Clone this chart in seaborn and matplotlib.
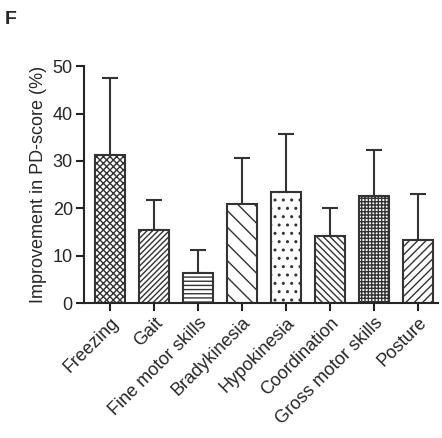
import numpy as np
import pandas as pd
import matplotlib
matplotlib.use('Agg')
import matplotlib.pyplot as plt
import seaborn as sns

categories = ['Freezing', 'Gait', 'Fine motor skills', 'Bradykinesia', 'Hypokinesia',
              'Coordination', 'Gross motor skills', 'Posture']
means = [31.2, 15.5, 6.4, 21.0, 23.4, 14.1, 22.6, 13.4]
upper = [47.5, 21.7, 11.1, 30.6, 35.6, 20.1, 32.3, 23.0]
hatches = ['xxxxx', '//////', '----', '\\\\', '..', '\\\\\\\\\\', '+++++', '////']

sns.set_style('ticks')
plt.rcParams['font.family'] = ['Liberation Sans', 'DejaVu Sans']
plt.rcParams['hatch.linewidth'] = 1.0

df = pd.DataFrame({'cat': categories, 'val': means})
fig = plt.figure(figsize=(4.42, 4.38), dpi=100)
ax = fig.add_axes([0.19, 0.308, 0.80, 0.541])
sns.barplot(data=df, x='cat', y='val', color='white', edgecolor='#333333',
            linewidth=1.5, width=0.68, ax=ax)
for bar, h in zip(ax.patches, hatches):
    bar.set_hatch(h)
    bar.set_zorder(3)
err = np.array(upper) - np.array(means)
ax.errorbar(np.arange(len(means)), means, yerr=[np.zeros(len(means)), err],
            fmt='none', ecolor='#333333', elinewidth=1.5, capsize=6, capthick=1.5, zorder=2)
ax.set_ylim(0, 50)
ax.set_xlim(-0.6, 7.45)
ax.set_yticks([0, 10, 20, 30, 40, 50])
ax.set_xlabel('')
ax.set_ylabel('Improvement in PD-score (%)', fontsize=13)
ax.tick_params(axis='both', labelsize=13, width=1.5, length=6, color='#222222', pad=2)
plt.setp(ax.get_xticklabels(), rotation=45, ha='right', rotation_mode='anchor')
for s in ['left', 'bottom']:
    ax.spines[s].set_linewidth(1.5)
    ax.spines[s].set_zorder(4)
sns.despine(ax=ax)
fig.text(0.01, 0.975, 'F', fontsize=14, fontweight='bold', va='top')
fig.savefig('out.png', dpi=100)
